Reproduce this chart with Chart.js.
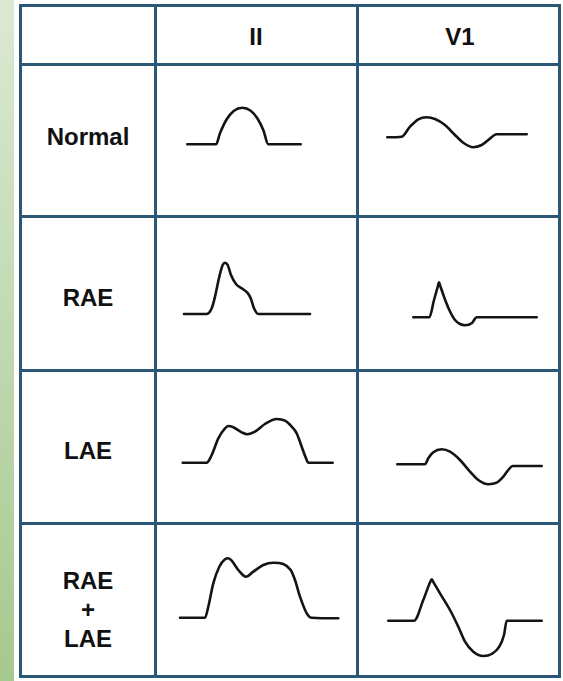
<!DOCTYPE html>
<html>
<head>
<meta charset="utf-8">
<script src="https://cdn.jsdelivr.net/npm/chart.js@4.4.0/dist/chart.umd.min.js"></script>
<style>
  html, body { margin: 0; padding: 0; background: #ffffff; }
  body { width: 563px; height: 681px; position: relative; overflow: hidden; }
  #strip { position: absolute; left: 0; top: 0; width: 14px; height: 681px;
           background: linear-gradient(#dbe9d2, #a6c98f); }
  .ln { position: absolute; background: #2c5878; }
  .txt { position: absolute; transform: translate(-50%, -50%); font-family: "Liberation Sans", Arial, sans-serif;
         font-weight: bold; font-size: 24px; line-height: 24px; color: #111; text-align: center; white-space: nowrap; }
  canvas { position: absolute; }
</style>
</head>
<body>
<div id="strip"></div>
<div id="page"></div>
<script>
// ---- Data (time units, amplitude units) ----
const leads = ['II', 'V1'];
const rowLabels = ['Normal', 'RAE', 'LAE', 'RAE\n+\nLAE'];

const normalII_t = [32.3, 61, 65, 71.7, 79, 87.3, 95.7, 102.3, 108.3, 113.3, 145.7];
const normalII_v = [-4.3, -4.3, 6.7, 20.7, 29.3, 32.3, 29.3, 21.7, 10, -4.3, -4.3];

const normalV1_t = [30.3, 44.7, 53, 61.3, 69.7, 78, 88, 98, 106.3, 116.3, 124.7, 131.3, 139.7, 169.7];
const normalV1_v = [2.7, 3.3, 13.3, 20.7, 22.7, 21, 15, 5, -2.7, -7.3, -5, 0, 5.7, 5.7];

const raeII_t = [29, 51.7, 56.7, 60, 64.3, 67.7, 70, 72.7, 76, 81, 86.7, 92.3, 95.7, 99, 103.3, 155];
const raeII_v = [-21, -21, -15.3, -3.7, 16.3, 28, 30.3, 28, 18, 9, 4.7, 0.3, -5.3, -15.3, -21, -21];

const raeV1_t = [56.3, 72.3, 77, 80.8, 82, 83.3, 87, 92.3, 98, 103, 108, 114.7, 119.7, 179.7];
const raeV1_v = [-24.3, -24.3, -7, 6.5, 10.7, 7, -3.7, -17, -27, -31, -32.3, -30.3, -24.3, -24.3];

const laeII_t = [27.7, 51.7, 56.7, 63.3, 70, 73.3, 78.3, 86.7, 92.3, 100, 110, 121.7, 130, 136.7, 141.7, 146.7, 151, 153.3, 177.7];
const laeII_v = [-16.2, -16.2, -8.5, 8.2, 18.2, 20.5, 19.2, 14.2, 12.2, 14.8, 22.5, 27.5, 25.8, 19.8, 13.2, -0.2, -11.8, -16.2, -16.2];

const laeV1_t = [40.3, 68, 71.3, 76.3, 84.7, 93, 103, 113, 121.3, 131.3, 139.7, 146.3, 151.3, 155.7, 184.7];
const laeV1_v = [-17.8, -17.8, -11.8, -5.8, -2.8, -5.2, -13.5, -25.2, -33.5, -37.8, -36.2, -30.2, -23.5, -19.5, -19.5];

const bothII_t = [25, 50, 53.3, 58.3, 64.3, 70, 73.3, 76.7, 83.3, 91, 98.3, 108.3, 118.3, 128.3, 135.7, 140, 145, 151.7, 156.7, 183.3];
const bothII_v = [-18.2, -18.2, -7.2, 16.2, 32.8, 40.2, 41.2, 38.8, 29.5, 22.8, 27.8, 34.5, 36.8, 35.5, 29.5, 19.5, 2.8, -13.8, -18.2, -18.8];

const bothV1_t = [31.3, 57, 66.3, 73.3, 74.7, 76.2, 83, 93, 101.3, 108, 116.3, 126.3, 134.7, 142.3, 147, 149.7, 184.7];
const bothV1_v = [-21.2, -21.2, -0.5, 17.7, 20.2, 17.7, 6.2, -10.5, -27.2, -42.2, -52.2, -56.5, -54.5, -47.2, -35.5, -21.2, -21.2];

const waves = [
  [[normalII_t, normalII_v], [normalV1_t, normalV1_v]],
  [[raeII_t, raeII_v], [raeV1_t, raeV1_v]],
  [[laeII_t, laeII_v], [laeV1_t, laeV1_v]],
  [[bothII_t, bothII_v], [bothV1_t, bothV1_v]]
];

// ---- Layout ----
const colEdges = [20.5, 155.5, 357.5, 559.5];
const rowEdges = [5.5, 64, 216, 370, 523, 676];
const lineW = 3;
const page = document.getElementById('page');

function addLine(x, y, w, h) {
  const d = document.createElement('div');
  d.className = 'ln';
  d.style.left = x + 'px'; d.style.top = y + 'px';
  d.style.width = w + 'px'; d.style.height = h + 'px';
  page.appendChild(d);
}
function addText(str, cx, cy, lh) {
  const d = document.createElement('div');
  d.className = 'txt';
  d.style.left = cx + 'px'; d.style.top = cy + 'px';
  if (lh) d.style.lineHeight = lh + 'px';
  d.innerHTML = str.split('\n').join('<br>');
  page.appendChild(d);
}

// charts
const cellLeft = [155, 357];
const cellWidth = [202, 203];
for (let r = 0; r < 4; r++) {
  const top = Math.round(rowEdges[r + 1]);
  const h = Math.round(rowEdges[r + 2]) - top;
  for (let c = 0; c < 2; c++) {
    const cv = document.createElement('canvas');
    cv.width = cellWidth[c]; cv.height = h;
    cv.style.left = cellLeft[c] + 'px'; cv.style.top = top + 'px';
    cv.style.width = cellWidth[c] + 'px'; cv.style.height = h + 'px';
    page.appendChild(cv);
    const [ts, vs] = waves[r][c];
    new Chart(cv, {
      type: 'line',
      data: {
        datasets: [{
          data: ts.map((t, i) => ({ x: t, y: vs[i] })),
          borderColor: '#141414',
          borderWidth: 2.6,
          pointRadius: 0,
          fill: false,
          cubicInterpolationMode: 'monotone',
          borderCapStyle: 'round',
          borderJoinStyle: 'round'
        }]
      },
      options: {
        responsive: false,
        animation: false,
        events: [],
        layout: { padding: 0 },
        plugins: { legend: { display: false }, tooltip: { enabled: false } },
        scales: {
          x: { type: 'linear', display: false, min: 0, max: cellWidth[c] },
          y: { type: 'linear', display: false, min: -h / 2, max: h / 2 }
        }
      }
    });
  }
}

// grid lines
const x0 = colEdges[0], x1 = colEdges[3];
rowEdges.forEach(y => addLine(x0 - lineW / 2, y - lineW / 2, x1 - x0 + lineW, lineW));
colEdges.forEach(x => addLine(x - lineW / 2, rowEdges[0] - lineW / 2, lineW, rowEdges[5] - rowEdges[0] + lineW));

// texts
addText(leads[0], 256, 37);
addText(leads[1], 460, 37);
const labelY = [137, 298, 451, 609];
rowLabels.forEach((l, i) => addText(l, 88, labelY[i], i === 3 ? 29 : null));
</script>
</body>
</html>
